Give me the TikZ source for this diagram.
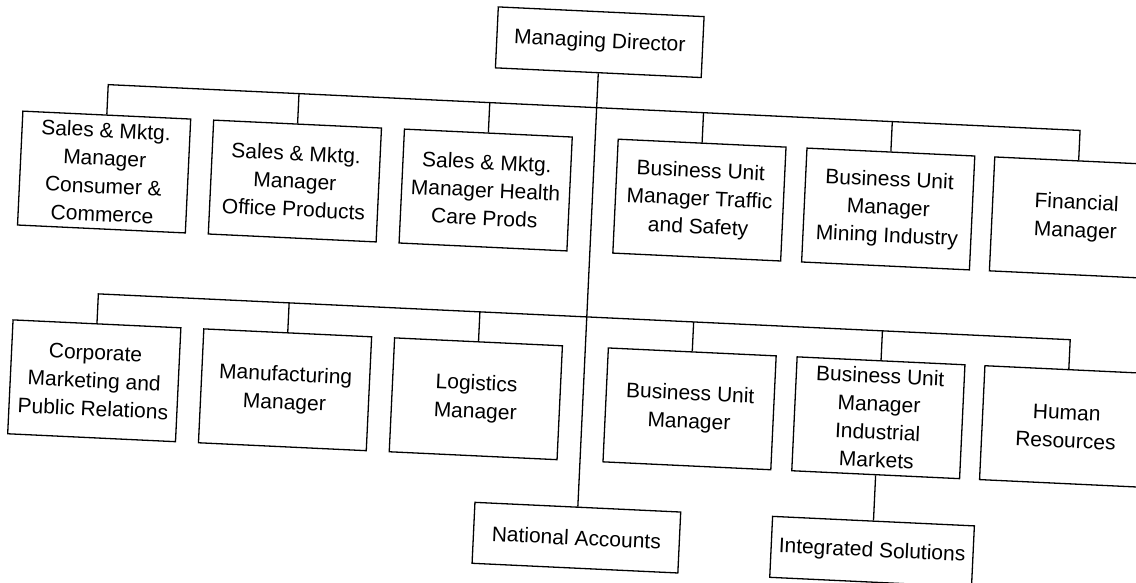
\documentclass[tikz,border=0pt]{standalone}
\usepackage{fontspec}
\setmainfont{Liberation Sans}
\begin{document}
\begin{tikzpicture}[x=1pt,y=1pt,
  box/.style={draw, line width=1.3pt, inner sep=0pt, align=center,
    minimum width=168pt, minimum height=114pt,
    font=\fontsize{21}{28}\selectfont},
  wide/.style={box, minimum width=206pt, minimum height=61pt},
  link/.style={line width=1.3pt}]
\useasboundingbox (0,0) rectangle (1136,-582);
\fill[white] (0,0) rectangle (1136,-582);
\clip (0,0) rectangle (1136,-582);
\begin{scope}[rotate around={-2.7:(568,-291)}, transform shape]
  % top
  \node[wide] (md) at (588,-41) {Managing Director};
  % first row
  \node[box] (b1) at (99,-194)  {Sales \& Mktg.\\Manager\\Consumer \&\\Commerce};
  \node[box] (b2) at (290,-194) {Sales \& Mktg.\\Manager\\Office Products};
  \node[box] (b3) at (481,-194) {Sales \& Mktg.\\Manager Health\\Care Prods};
  \node[box] (b4) at (695,-194) {Business Unit\\Manager Traffic\\and Safety};
  \node[box] (b5) at (884,-194) {Business Unit\\Manager\\Mining Industry};
  \node[box] (b6) at (1072,-194) {Financial\\Manager};
  % second row
  \node[box] (c1) at (99,-403)  {Corporate\\Marketing and\\Public Relations};
  \node[box] (c2) at (290,-403) {Manufacturing\\Manager};
  \node[box] (c3) at (481,-403) {Logistics\\Manager};
  \node[box] (c4) at (695,-403) {Business Unit\\Manager};
  \node[box] (c5) at (884,-403) {Business Unit\\Manager\\Industrial\\Markets};
  \node[box] (c6) at (1072,-403) {Human\\Resources};
  % bottom
  \node[wide] (na) at (588,-537) {National Accounts};
  \node[wide, minimum width=202pt] (is) at (884,-537) {Integrated Solutions};
  % buses
  \coordinate (busA) at (0,-106.5);
  \coordinate (busB) at (0,-316);
  \draw[link] (md.south) -- (na.north);
  \draw[link] (b1.north) -- (b1.north |- busA) -- (b6.north |- busA) -- (b6.north);
  \foreach \n in {b2,b3,b4,b5} \draw[link] (\n.north) -- (\n.north |- busA);
  \draw[link] (c1.north) -- (c1.north |- busB) -- (c6.north |- busB) -- (c6.north);
  \foreach \n in {c2,c3,c4,c5} \draw[link] (\n.north) -- (\n.north |- busB);
  \draw[link] (c5.south) -- (is.north);
\end{scope}
\end{tikzpicture}
\end{document}
